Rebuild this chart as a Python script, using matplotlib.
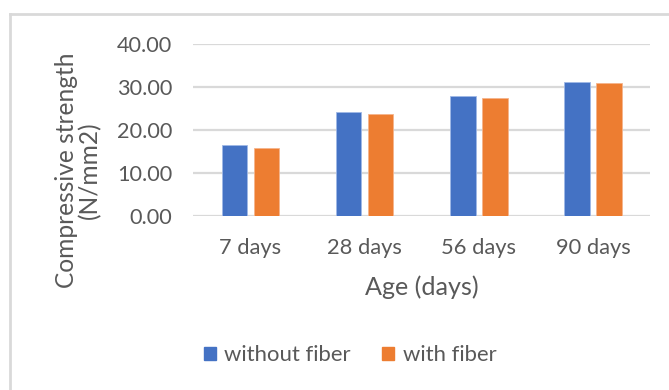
import matplotlib
matplotlib.use("Agg")
import matplotlib.pyplot as plt
from matplotlib.lines import Line2D
import numpy as np

categories = ["7 days", "28 days", "56 days", "90 days"]
without_fiber = [16.4, 24.2, 27.8, 31.0]
with_fiber = [15.8, 23.6, 27.4, 30.8]
yticks = [0, 10, 20, 30, 40]

W, H = 669, 390
plt.rcParams["font.family"] = ["Lato", "DejaVu Sans"]
txt = "#595959"
grid = "#d9d9d9"
blue = "#4472C4"
orange = "#ED7D31"

fig = plt.figure(figsize=(W / 100, H / 100), dpi=100)
renderer = fig.canvas.get_renderer()


def size_for_width(s, width_px, base=12.0):
    """Font size at which string s spans width_px pixels."""
    t = fig.text(0, 0, s, fontsize=base)
    w = t.get_window_extent(renderer).width
    t.remove()
    return base * width_px / w


fs_ytick = size_for_width("40.00", 55)
fs_xtick = size_for_width("7 days", 62)
fs_xlabel = size_for_width("Age (days)", 113)
fs_ylabel = size_for_width("Compressive strength", 234)
fs_legend = size_for_width("without fiber", 126)

# plot area in pixel coordinates
x0, x1 = 193.3, 650.0
y_top, y_bot = 43.7, 215.7
ax = fig.add_axes([x0 / W, 1 - y_bot / H, (x1 - x0) / W, (y_bot - y_top) / H])

x = np.arange(len(categories))
bw = 0.224
off = 0.14
ax.bar(x - off, without_fiber, bw, color=blue, edgecolor="#9fb8e6", linewidth=0.6, zorder=3)
ax.bar(x + off, with_fiber, bw, color=orange, edgecolor="#f5b48c", linewidth=0.6, zorder=3)

ax.set_xlim(-0.5, len(categories) - 0.5)
ax.set_ylim(0, 40)
ax.yaxis.grid(True, color=grid, linewidth=1.6, zorder=0)
ax.set_axisbelow(True)
ax.set_yticks(yticks)
ax.set_yticklabels([f"{v:.2f}" for v in yticks])
ax.set_xticks(x)
ax.set_xticklabels(categories)
ax.tick_params(axis="y", which="major", length=0, labelsize=fs_ytick, labelcolor=txt, pad=15)
ax.tick_params(axis="x", which="major", length=0, labelsize=fs_xtick, labelcolor=txt, pad=16)
for s in ax.spines.values():
    s.set_visible(False)

# category axis label
fig.text(421.5 / W, 1 - 287 / H, "Age (days)", ha="center", va="center",
         fontsize=fs_xlabel, color=txt)

# value axis label (two lines, rotated)
fig.text(78 / W, 1 - 170 / H, "Compressive strength\n(N/mm2)", ha="center", va="center",
         rotation=90, fontsize=fs_ylabel, color=txt, linespacing=1.0, multialignment="center")

# legend
handles = [plt.Rectangle((0, 0), 1, 1, color=blue), plt.Rectangle((0, 0), 1, 1, color=orange)]
fig.legend(handles, ["without fiber", "with fiber"], loc="center",
           bbox_to_anchor=(350 / W, 1 - 355 / H), ncol=2, frameon=False,
           fontsize=fs_legend, labelcolor=txt, handlelength=0.55, handleheight=0.55,
           handletextpad=0.4, columnspacing=1.4)

# chart area border (top and left edges)
fig.add_artist(Line2D([9.5 / W, 1.0], [1 - 13.5 / H, 1 - 13.5 / H], color=grid,
                      linewidth=2.0, transform=fig.transFigure))
fig.add_artist(Line2D([9.5 / W, 9.5 / W], [0.0, 1 - 13.5 / H], color=grid,
                      linewidth=2.0, transform=fig.transFigure))

fig.savefig("out.png", dpi=100, facecolor="white")
